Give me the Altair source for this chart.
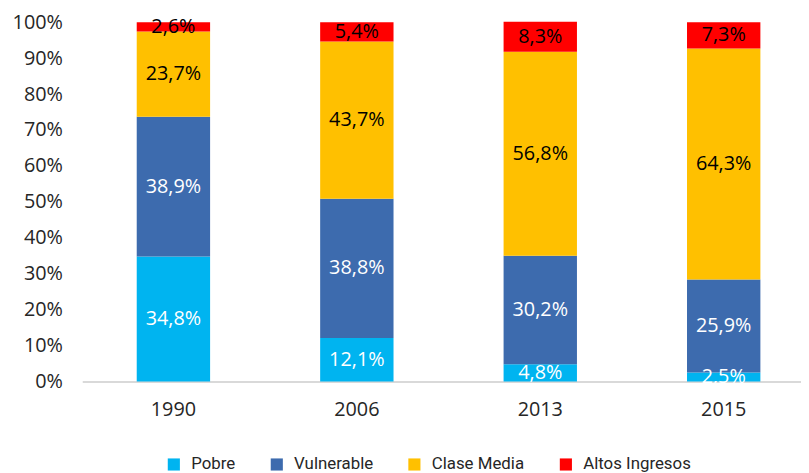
import altair as alt
import pandas as pd

years = ["1990", "2006", "2013", "2015"]
categories = ["Pobre", "Vulnerable", "Clase Media", "Altos Ingresos"]
pobre = [34.8, 12.1, 4.8, 2.5]
vulnerable = [38.9, 38.8, 30.2, 25.9]
clase_media = [23.7, 43.7, 56.8, 64.3]
altos = [2.6, 5.4, 8.3, 7.3]
y_ticks = [0, 0.1, 0.2, 0.3, 0.4, 0.5, 0.6, 0.7, 0.8, 0.9, 1.0]
colors = ["#00B4F0", "#3D6BAE", "#FFC000", "#FF0000"]
text_colors = ["white", "white", "black", "black"]

series = [pobre, vulnerable, clase_media, altos]
rows = []
for yi, yr in enumerate(years):
    base = 0.0
    for ci, cat in enumerate(categories):
        v = series[ci][yi]
        rows.append({
            "year": yr, "cat": cat, "idx": ci, "value": v / 100,
            "start": base / 100, "end": (base + v) / 100,
            "mid": (base + v / 2) / 100,
            "label": f"{v:.1f}".replace(".", ",") + "%",
            "tcolor": text_colors[ci],
        })
        base += v
df = pd.DataFrame(rows)

xscale = alt.Scale(paddingInner=0.6, paddingOuter=0.297, range=[0, 740])
yscale = alt.Scale(domain=[0, 1], nice=False)

xaxis = alt.Axis(title=None, labelAngle=0, ticks=False, labelFont="Open Sans",
                 labelFontSize=20, labelColor="#262626", labelPadding=18,
                 domainColor="#D9D9D9", domainWidth=2)
yaxis = alt.Axis(title=None, format=".0%", values=y_ticks, labelOverlap=False,
                 grid=False, domain=False, ticks=False, labelFont="Open Sans",
                 labelFontSize=20, labelColor="#262626", labelPadding=20)

bars = alt.Chart(df).mark_bar().encode(
    x=alt.X("year:N", scale=xscale, sort=years, axis=xaxis),
    y=alt.Y("start:Q", scale=yscale, axis=yaxis),
    y2="end:Q",
    color=alt.Color("cat:N", scale=alt.Scale(domain=categories, range=colors),
                    legend=alt.Legend(title=None, orient="none", direction="horizontal",
                                      legendX=84, legendY=438, symbolType="square",
                                      symbolSize=150, symbolStrokeWidth=0,
                                      labelFont="Roboto", labelFontSize=17,
                                      labelColor="#262626", labelOffset=9,
                                      columnPadding=33, symbolOpacity=1)),
)

texts = alt.Chart(df).mark_text(font="Open Sans", fontSize=20, baseline="middle").encode(
    x=alt.X("year:N", scale=xscale, sort=years, axis=xaxis),
    y=alt.Y("mid:Q", scale=yscale, axis=yaxis),
    text="label:N",
    color=alt.Color("tcolor:N", scale=None, legend=None),
)

chart = alt.layer(bars, texts).properties(
    width=726, height=363,
    autosize=alt.AutoSizeParams(type="none"),
    padding={"left": 75, "top": 12, "right": 0, "bottom": 90},
).configure_view(stroke=None).configure_axis(labelOverlap=False)

chart.save("out.html", embed_options={"renderer": "svg", "actions": False})
